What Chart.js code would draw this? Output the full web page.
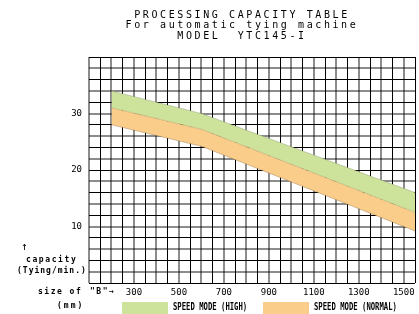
<!DOCTYPE html>
<html>
<head>
<meta charset="utf-8">
<script src="https://cdn.jsdelivr.net/npm/chart.js@4.4.1/dist/chart.umd.min.js"></script>
<style>
  html, body { margin: 0; padding: 0; background: #fff; }
  #wrap { position: relative; width: 419px; height: 314px; overflow: hidden; }
  #chart { position: absolute; left: 0; top: 0; }
  .t { position: absolute; white-space: pre; color: #000; font-family: "DejaVu Sans Mono", monospace; }
  .title { left: 0; width: 484px; text-align: center; font-size: 10px; line-height: 10.5px; letter-spacing: 2.6px; }
  .side { font-size: 8px; font-weight: bold; line-height: 10px; }
  .leg { font-size: 10px; font-weight: bold; line-height: 10px; transform: scaleX(0.725); transform-origin: left center; }
  .box { position: absolute; height: 12px; width: 46px; top: 302px; }
</style>
</head>
<body>
<div id="wrap">
  <canvas id="chart" width="419" height="314"></canvas>
  <div class="t title" style="top:9.6px">PROCESSING CAPACITY TABLE<br>For automatic tying machine<br>MODEL  YTC145-I</div>
  <div class="t side" style="left:21px;top:242px;font-size:11px;font-weight:normal">↑</div>
  <div class="t side" style="left:26px;top:255px;letter-spacing:1.6px">capacity</div>
  <div class="t side" style="left:17px;top:266px;letter-spacing:1px">(Tying/min.)</div>
  <div class="t side" style="left:38px;top:287px;letter-spacing:1.5px">size of</div>
  <div class="t side" style="left:90px;top:287px;letter-spacing:1.5px">"B"→</div>
  <div class="t side" style="left:57px;top:301px;letter-spacing:2px">(mm)</div>
  <div class="box" style="left:122px;background:rgb(205,226,155)"></div>
  <div class="t leg" style="left:173px;top:302px">SPEED MODE (HIGH)</div>
  <div class="box" style="left:263px;background:rgb(250,205,138)"></div>
  <div class="t leg" style="left:314px;top:302px">SPEED MODE (NORMAL)</div>
</div>
<script>
// size of "B" (mm) where the band changes slope
const sizes = [200, 600, 1550];
// capacity (tying/min.)
const normalMin = [28, 24.2, 9.2];
const normalMax = [31, 27.2, 12.5];   // also the lower edge of HIGH mode
const highMax = [34, 30, 16];

const xMin = 100, xMax = 1550, xStep = 50;
const yMin = 0, yMax = 40, yStep = 2;

const greenFill = 'rgb(205,226,155)';
const orangeFill = 'rgb(250,205,138)';

function pts(values) {
  return sizes.map((s, i) => ({ x: s, y: values[i] }));
}

const grayLine = 'rgba(0,0,0,0.45)';

new Chart(document.getElementById('chart'), {
  type: 'line',
  data: {
    datasets: [
      {
        data: pts(normalMin),
        borderColor: 'rgba(130,95,50,0.35)',
        borderWidth: 1,
        pointRadius: 0,
        fill: false
      },
      {
        data: pts(normalMax),
        borderColor: 'rgba(140,120,70,0.3)',
        borderWidth: 1,
        pointRadius: 0,
        backgroundColor: orangeFill,
        fill: '-1'
      },
      {
        data: pts(highMax),
        borderColor: 'rgba(110,120,90,0.3)',
        borderWidth: 1,
        pointRadius: 0,
        backgroundColor: greenFill,
        fill: '-1'
      }
    ]
  },
  options: {
    responsive: false,
    animation: false,
    devicePixelRatio: 1,
    layout: { padding: { top: 57, right: 1, left: 0, bottom: 0 } },
    scales: {
      x: {
        type: 'linear',
        min: xMin,
        max: xMax,
        afterFit: s => { s.height = 31; },
        border: { display: false },
        grid: {
          drawTicks: false,
          color: c => c.index % 2 === 0 ? grayLine : '#000',
          lineWidth: c => c.index % 2 === 0 ? 2 : 1
        },
        ticks: {
          stepSize: xStep,
          autoSkip: false,
          maxRotation: 0,
          padding: 4,
          color: '#000',
          font: { family: 'DejaVu Sans Mono', size: 9 },
          callback: v => (v >= 300 && (v - 300) % 200 === 0) ? String(v) : ''
        }
      },
      y: {
        min: yMin,
        max: yMax,
        afterFit: s => { s.width = 89; },
        border: { display: false },
        grid: {
          drawTicks: false,
          color: c => c.index % 2 === 0 ? '#000' : grayLine,
          lineWidth: c => c.index % 2 === 0 ? 1 : 2
        },
        ticks: {
          stepSize: yStep,
          autoSkip: false,
          padding: 7,
          color: '#000',
          font: { family: 'DejaVu Sans Mono', size: 9 },
          callback: v => (v > 0 && v < 40 && v % 10 === 0) ? String(v) : ''
        }
      }
    },
    plugins: {
      legend: { display: false },
      tooltip: { enabled: false }
    }
  }
});
</script>
</body>
</html>
